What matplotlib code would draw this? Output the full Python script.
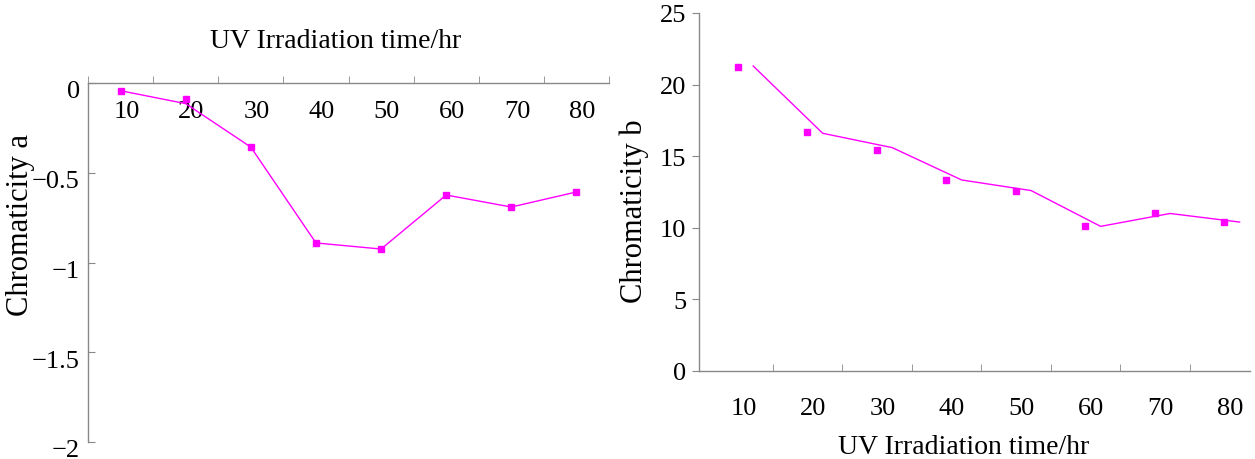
import matplotlib.pyplot as plt
import matplotlib.transforms as mtransforms
import numpy as np

plt.rcParams["font.family"] = ["Liberation Serif", "DejaVu Serif"]

hours = ["10", "20", "30", "40", "50", "60", "70", "80"]

# chromaticity a (markers and the drawn line differ slightly at 20 h)
chroma_a = [-0.043, -0.089, -0.357, -0.891, -0.925, -0.624, -0.691, -0.607]
chroma_a_line = [-0.043, -0.115, -0.357, -0.891, -0.925, -0.624, -0.691, -0.607]

# chromaticity b
chroma_b = [21.25, 16.66, 15.45, 13.34, 12.57, 10.13, 11.03, 10.4]
chroma_b_line = [21.3, 16.6, 15.6, 13.34, 12.6, 10.1, 11.0, 10.4]

MAGENTA = "#ff00ff"
SPINE = "#888888"

fig = plt.figure(figsize=(12.55, 4.6), dpi=100)

x = np.arange(1, len(hours) + 1)

# ---- left panel: x axis on top, values negative
ax1 = fig.add_axes([88 / 1255, 1 - 443 / 460, 521 / 1255, 359 / 460])
ax1.plot(x, chroma_a_line, color=MAGENTA, lw=1.0)
ax1.plot(x, chroma_a, ls="none", marker="s", ms=5, color=MAGENTA)
ax1.set_xlim(0.5, 8.5)
ax1.set_ylim(-2, 0)
for s in ["bottom", "right"]:
    ax1.spines[s].set_visible(False)
for s in ["top", "left"]:
    ax1.spines[s].set_color(SPINE)
    ax1.spines[s].set_linewidth(1.0)
ax1.xaxis.tick_top()
ax1.set_xticks(x + 0.09)
ax1.set_xticklabels(hours)
ax1.set_xticks(np.arange(0.5, 9, 1), minor=True)
ax1.tick_params(axis="x", which="major", length=0, pad=-28, labelsize=19)
ax1.tick_params(axis="x", which="minor", direction="out", length=5,
                color=SPINE, top=True, bottom=False)
ax1.set_yticks([0, -0.5, -1, -1.5, -2])
ax1.set_yticklabels(["0", "\u22120.5", "\u22121", "\u22121.5", "\u22122"])
ax1.tick_params(axis="y", direction="in", length=5, color=SPINE,
                labelsize=19, pad=6)
# labels sit a little below their ticks in the original
shift = mtransforms.ScaledTranslation(0, -0.06, fig.dpi_scale_trans)
for lab in ax1.get_yticklabels():
    lab.set_transform(lab.get_transform() + shift)
ax1.xaxis.set_label_position("top")
ax1.set_xlabel("UV Irradiation time/hr", fontsize=20)
ax1.xaxis.set_label_coords(0.475, 1.1)
ax1.set_ylabel("Chromaticity a", fontsize=22)
ax1.yaxis.set_label_coords(-0.102, 0.607)

# ---- right panel
ax2 = fig.add_axes([699 / 1255, 1 - 372 / 460, 551 / 1255, 358 / 460])
ax2.plot(x + 0.22, chroma_b_line, color=MAGENTA, lw=1.0)
ax2.plot(x, chroma_b, ls="none", marker="s", ms=5, color=MAGENTA)
ax2.set_xlim(0.44, 8.37)
ax2.set_ylim(0, 25)
for s in ["top", "right"]:
    ax2.spines[s].set_visible(False)
for s in ["bottom", "left"]:
    ax2.spines[s].set_color(SPINE)
    ax2.spines[s].set_linewidth(1.0)
ax2.set_xticks(x + 0.08)
ax2.set_xticklabels(hours)
ax2.set_xticks(np.arange(1.5, 8, 1), minor=True)
ax2.tick_params(axis="x", which="major", length=0, pad=19, labelsize=19)
ax2.tick_params(axis="x", which="minor", direction="in", length=5,
                color=SPINE)
ax2.set_yticks([0, 5, 10, 15, 20, 25])
ax2.tick_params(axis="y", direction="out", length=5, color=SPINE,
                labelsize=19, pad=4)
ax2.set_xlabel("UV Irradiation time/hr", fontsize=20)
ax2.xaxis.set_label_coords(0.48, -0.175)
ax2.set_ylabel("Chromaticity b", fontsize=22)
ax2.yaxis.set_label_coords(-0.09, 0.45)

fig.savefig("out.png", dpi=100)
